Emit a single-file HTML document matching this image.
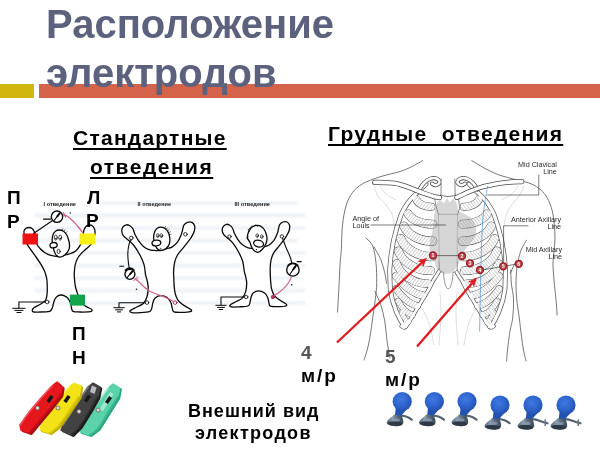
<!DOCTYPE html>
<html lang="ru">
<head>
<meta charset="utf-8">
<title>Расположение электродов</title>
<style>
html,body{margin:0;padding:0;background:#fff;}
body{width:600px;height:450px;position:relative;overflow:hidden;font-family:"Liberation Sans",sans-serif;}
.t{position:absolute;white-space:nowrap;font-weight:bold;color:#000;line-height:1;}
#title1,#title2{font-size:40px;color:#5c627d;}
#title1{left:46px;top:3.5px;}
#title2{left:46px;top:53px;}
#barY{position:absolute;left:0;top:84px;width:34px;height:14px;background:#d2b610;}
#barO{position:absolute;left:39px;top:84px;width:561px;height:14px;background:#d5634a;}
.u{text-decoration:underline;text-decoration-skip-ink:none;text-decoration-thickness:2px;text-underline-offset:3px;}
#std1{left:73px;top:127px;font-size:21px;letter-spacing:1.25px;}
#std2{left:90px;top:156px;font-size:21px;letter-spacing:1.5px;}
#chest{left:328px;top:123px;font-size:21px;letter-spacing:1.3px;}
.lbl{font-size:19px;}
#g{position:absolute;left:0;top:0;filter:blur(0.45px);}
.t{filter:blur(0.4px);}
#g text{font-family:"Liberation Sans",sans-serif;}
</style>
</head>
<body>
<svg id="g" width="600" height="450" viewBox="0 0 600 450">
<g id="figs" fill="none" stroke="#0a0a0a" stroke-width="1.3" stroke-linecap="round" stroke-linejoin="round">
<defs><filter id="gblur" x="-5%" y="-50%" width="110%" height="200%"><feGaussianBlur stdDeviation="1.2 0.9"/></filter></defs>
<g stroke="none" fill="#d9e2ec" opacity="0.42" filter="url(#gblur)"><rect x="100" y="201.0" width="198" height="4" rx="2"/><rect x="34" y="213.5" width="272" height="4" rx="2"/><rect x="34" y="226.0" width="272" height="4" rx="2"/><rect x="34" y="238.5" width="264" height="4" rx="2"/><rect x="34" y="251.0" width="272" height="4" rx="2"/><rect x="34" y="263.5" width="272" height="4" rx="2"/><rect x="34" y="276.0" width="264" height="4" rx="2"/><rect x="34" y="288.5" width="272" height="4" rx="2"/><rect x="34" y="301.0" width="272" height="4" rx="2"/></g>
<path d="M123.5 235.8C122.6 234.6 121.9 232.9 121.8 231.5C121.7 230.1 122.0 228.3 122.8 227.2C123.6 226.1 125.2 225.0 126.4 224.8C127.6 224.6 128.8 225.2 129.9 225.8C131.0 226.5 132.1 227.6 132.8 228.7C133.5 229.8 133.8 231.3 134.2 232.2C134.5 233.1 134.2 232.9 134.9 234.3C135.6 235.7 137.1 238.7 138.5 240.7C139.9 242.7 141.6 244.9 143.4 246.4C145.2 247.9 147.3 248.9 149.1 249.6C150.9 250.3 152.2 250.2 154.1 250.4C156.0 250.6 158.4 250.8 160.5 250.5C162.6 250.2 165.0 249.2 166.9 248.6C168.8 248.0 170.1 248.2 171.9 247.1C173.7 246.0 176.0 244.2 177.5 242.2C179.0 240.2 180.3 237.1 181.1 235.1C181.9 233.1 182.0 231.8 182.5 230.1C183.0 228.4 183.1 226.4 183.9 225.1C184.7 223.8 186.2 222.8 187.5 222.3C188.8 221.8 190.6 221.7 191.8 222.3C193.0 222.9 194.2 224.4 194.6 225.8C195.0 227.2 194.7 229.2 194.3 230.8C194.0 232.4 193.4 233.4 192.5 235.1C191.6 236.8 190.5 238.6 188.9 240.7C187.3 242.8 185.1 245.5 183.2 247.9C181.3 250.3 178.9 252.6 177.5 255.0C176.1 257.4 175.3 259.5 174.7 262.1C174.0 264.7 173.8 268.0 173.6 270.6C173.4 273.2 173.7 275.6 173.8 278.0C173.9 280.4 173.9 282.6 174.1 285.1C174.3 287.6 174.5 290.7 175.1 293.2C175.7 295.7 176.6 298.2 177.9 300.2C179.2 302.1 181.0 303.3 183.2 304.9C185.4 306.5 189.7 308.5 190.9 309.6C192.1 310.7 191.7 311.2 190.2 311.7C188.7 312.2 184.8 312.4 182.1 312.4C179.4 312.4 175.5 312.6 173.9 311.9C172.3 311.2 172.8 309.9 172.3 308.4C171.8 306.8 171.7 304.4 170.9 302.6C170.1 300.9 169.2 299.1 167.6 297.9C165.9 296.7 163.1 295.6 161.0 295.6C158.9 295.6 156.5 296.7 155.2 297.9C153.8 299.1 153.5 300.9 152.9 302.6C152.3 304.4 152.3 306.9 151.7 308.4C151.1 309.9 151.3 311.0 149.4 311.7C147.5 312.4 142.9 312.5 140.0 312.6C137.1 312.8 133.5 312.9 131.9 312.6C130.3 312.3 129.4 311.6 130.2 310.7C131.0 309.8 134.3 308.4 136.5 307.2C138.7 306.0 141.8 305.1 143.5 303.3C145.2 301.6 146.2 299.4 147.0 296.7C147.8 294.0 148.2 290.2 148.2 287.4C148.2 284.6 147.4 282.1 147.0 280.0C146.6 277.9 146.1 277.4 145.6 274.9C145.1 272.4 145.0 268.2 144.1 264.9C143.2 261.6 141.7 258.3 139.9 255.0C138.1 251.7 135.7 247.7 133.5 245.0C131.3 242.3 128.7 240.5 127.0 239.0C125.3 237.5 124.4 237.1 123.5 235.8Z" fill="#fff"/>
<path d="M160.5 227.2C161.8 227.2 163.7 227.6 165.0 228.5C166.3 229.4 167.5 230.9 168.3 232.5C169.1 234.1 169.6 236.1 169.8 238.0C170.0 239.9 169.9 242.2 169.3 244.0C168.7 245.8 167.4 247.4 166.0 248.5C164.6 249.6 162.5 250.3 161.0 250.3C159.5 250.3 158.0 249.6 157.0 248.5C156.0 247.4 155.6 245.8 155.0 244.0C154.4 242.2 153.7 240.0 153.6 238.0C153.5 236.0 154.0 233.6 154.6 232.0C155.2 230.4 156.0 229.3 157.0 228.5C158.0 227.7 159.2 227.2 160.5 227.2Z" fill="#fff"/><ellipse cx="156.4" cy="243.0" rx="4.4" ry="2.8" fill="#fff" transform="rotate(-8 156.4 243.0)"/><ellipse cx="157.8" cy="235.6" rx="1.3" ry="2" fill="#fff" stroke-width="0.7"/><circle cx="158.0" cy="236.2" r="0.7" fill="#111" stroke="none"/><ellipse cx="161.4" cy="235.6" rx="1.3" ry="2" fill="#fff" stroke-width="0.7"/><circle cx="161.6" cy="236.2" r="0.7" fill="#111" stroke="none"/><circle cx="160.8" cy="248.3" r="0.6" fill="#111" stroke="none"/><path d="M164.5 228.3 L165.5 226.6" stroke-width="0.6"/><path d="M166.2 229.3 L167.6 227.8" stroke-width="0.6"/><path d="M167.6 230.8 L169.2 229.6" stroke-width="0.6"/><path d="M168.7 232.6 L170.4 231.8" stroke-width="0.6"/><path d="M169.4 234.6 L171.0 234.3" stroke-width="0.6"/>
<circle cx="131.3" cy="237.9" r="1.8" fill="#fff" stroke-width="0.8"/>
<circle cx="185.4" cy="234.3" r="1.8" fill="#fff" stroke-width="0.8"/>
<circle cx="147.0" cy="302.6" r="1.8" fill="#fff" stroke-width="0.8"/>
<circle cx="175.1" cy="302.6" r="1.8" fill="#fff" stroke="#a04" stroke-width="0.8"/>
<path d="M131.3 239.7C131.0 240.3 129.8 241.3 129.2 243.6C128.6 245.9 127.9 250.2 127.8 253.5C127.7 256.8 128.2 260.9 128.5 263.5C128.8 266.1 129.3 268.1 129.5 269.0" stroke-width="1.1"/>
<path d="M125.5 270.2 A5.4 5.4 0 0 1 133.8 270" stroke-width="1.8"/>
<circle cx="129.9" cy="274.3" r="5.0" fill="#fff" stroke-width="1.35"/><path d="M127.3 277.4 L132.5 271.2" stroke-width="1.1"/><path d="M130.2 274.0 L132.2 271.5" stroke-width="2"/>
<path d="M119.8 266.3 H123.6" stroke-width="1.1"/>
<path d="M135.0 278.6C135.6 279.1 137.2 280.3 138.5 281.5C139.8 282.7 141.2 284.4 143.0 286.0C144.8 287.6 147.4 289.6 149.4 290.9C151.4 292.1 153.1 292.7 155.0 293.5C156.9 294.3 158.8 294.8 161.0 295.6C163.2 296.4 165.9 297.5 168.0 298.5C170.1 299.5 172.7 301.1 173.6 301.6" stroke="#d3608f" stroke-width="1.2"/>
<path d="M133.8 280.8 L137.2 276.8 M138.3 278 L136.6 279.8" stroke="#d3608f" stroke-width="1"/>
<circle cx="136.5" cy="289.3" r="0.8" fill="#111" stroke="none"/>
<path d="M145.2 302.8 H119.0 V307.4" stroke-width="1.1"/><path d="M113.8 307.7 H124.2" stroke-width="1"/><path d="M115.5 309.8 H122.5" stroke-width="1"/><path d="M117.3 311.9 H120.7" stroke-width="1"/>
<path d="M24.5 236.0C24.2 234.5 23.8 232.3 24.0 231.0C24.2 229.7 25.2 228.9 26.0 228.3C26.8 227.7 28.0 227.5 29.0 227.5C30.0 227.5 31.2 227.9 32.0 228.5C32.8 229.1 33.5 230.1 34.0 231.0C34.5 231.9 34.6 232.5 35.0 234.0C35.4 235.5 36.2 238.3 36.5 240.0C36.8 241.7 36.4 243.0 37.0 244.4C37.6 245.8 38.9 247.2 40.0 248.5C41.1 249.8 42.6 250.9 43.9 251.9C45.2 252.9 46.6 253.7 48.0 254.3C49.4 254.9 50.4 255.2 52.2 255.6C54.0 256.0 56.7 256.6 59.0 256.5C61.3 256.4 64.2 255.2 66.1 254.7C68.0 254.2 69.1 254.0 70.5 253.5C71.9 253.0 73.2 252.7 74.4 251.9C75.7 251.1 77.0 249.8 78.0 248.5C79.0 247.2 79.9 245.8 80.6 244.4C81.3 243.0 81.6 241.4 82.0 240.0C82.4 238.6 82.7 237.7 83.0 236.0C83.3 234.3 83.5 231.6 84.0 230.0C84.5 228.4 85.2 227.3 86.0 226.5C86.8 225.7 87.9 225.1 89.0 225.0C90.1 224.9 91.6 225.3 92.5 226.0C93.4 226.7 94.1 227.8 94.5 229.0C94.9 230.2 95.2 231.2 95.0 233.0C94.8 234.8 94.2 238.1 93.5 240.0C92.8 241.9 92.2 242.9 91.0 244.4C89.8 245.9 87.6 247.5 86.0 249.0C84.4 250.5 82.8 251.7 81.4 253.3C80.0 254.9 78.5 256.6 77.5 258.5C76.5 260.4 75.8 262.3 75.3 264.4C74.8 266.5 74.6 268.7 74.4 271.0C74.2 273.3 74.2 275.6 74.4 278.3C74.6 281.0 74.9 284.3 75.5 287.0C76.1 289.7 77.0 292.2 77.8 294.4C78.5 296.6 79.0 298.2 80.0 300.0C81.0 301.8 82.7 303.8 84.0 305.0C85.3 306.2 86.7 306.8 88.0 307.5C89.3 308.2 91.1 308.8 91.7 309.4C92.3 310.0 92.1 310.9 91.5 311.3C90.9 311.7 90.2 311.8 88.3 311.9C86.4 312.0 82.5 312.1 80.0 312.0C77.5 311.9 74.4 312.0 73.0 311.3C71.6 310.6 71.9 309.4 71.5 308.0C71.1 306.6 71.1 304.6 70.5 303.0C69.9 301.4 69.0 299.5 68.0 298.3C67.0 297.1 65.7 296.4 64.5 295.8C63.3 295.2 61.9 294.9 60.6 295.0C59.4 295.1 57.9 295.8 57.0 296.5C56.1 297.2 55.6 297.9 55.0 299.0C54.4 300.1 53.9 301.8 53.5 303.0C53.1 304.2 53.1 305.3 52.8 306.4C52.5 307.5 52.1 308.7 51.5 309.5C50.9 310.3 51.3 310.9 49.4 311.3C47.5 311.7 42.6 311.9 40.0 312.0C37.4 312.1 34.8 312.3 33.5 312.0C32.2 311.7 32.1 311.1 32.2 310.3C32.3 309.6 32.9 308.5 34.2 307.5C35.5 306.5 38.1 305.6 40.0 304.5C41.9 303.4 44.2 302.0 45.3 300.6C46.4 299.2 46.5 297.4 46.8 296.0C47.1 294.6 47.1 294.0 47.2 292.2C47.3 290.4 47.3 287.3 47.2 285.0C47.1 282.7 47.2 280.6 46.7 278.3C46.2 276.0 45.5 273.3 44.5 271.0C43.5 268.7 42.4 266.7 41.0 264.4C39.6 262.1 37.7 259.4 36.0 257.0C34.3 254.6 32.5 252.1 31.0 250.0C29.5 247.9 28.1 246.1 27.2 244.4C26.3 242.7 25.9 241.4 25.5 240.0C25.1 238.6 24.8 237.5 24.5 236.0Z" fill="#fff"/>
<path d="M59.0 230.0C60.3 230.0 62.2 230.4 63.5 231.2C64.8 232.0 66.0 233.5 66.8 235.0C67.6 236.5 68.1 238.2 68.6 240.0C69.1 241.8 69.6 243.8 69.6 245.5C69.6 247.2 69.3 248.9 68.5 250.5C67.7 252.1 66.4 253.7 65.0 254.8C63.6 255.9 61.8 257.1 60.3 257.2C58.8 257.3 57.3 256.4 56.3 255.3C55.2 254.2 54.6 252.2 54.0 250.5C53.4 248.8 52.9 246.9 52.6 245.0C52.3 243.1 52.1 240.8 52.2 239.0C52.3 237.2 52.7 235.3 53.3 234.0C53.9 232.7 54.8 231.7 55.8 231.0C56.8 230.3 57.7 230.0 59.0 230.0Z" fill="#fff"/>
<ellipse cx="53.6" cy="245.2" rx="3.6" ry="2.6" fill="#fff" transform="rotate(-10 53.6 245.2)"/>
<ellipse cx="55.8" cy="237.6" rx="1.5" ry="2.6" fill="#fff" stroke-width="0.7"/>
<circle cx="55.9" cy="238.6" r="0.8" fill="#111" stroke="none"/>
<ellipse cx="60.2" cy="237.6" rx="1.5" ry="2.6" fill="#fff" stroke-width="0.7"/>
<circle cx="60.3" cy="238.6" r="0.8" fill="#111" stroke="none"/>
<ellipse cx="58.6" cy="251.4" rx="1.5" ry="2.2" fill="#fff" stroke-width="0.8"/>
<path d="M62 230.3 L62.6 228.8 M64 231.2 L65 229.8 M65.8 232.8 L67 231.6" stroke-width="0.6"/>
<path d="M52.6 220.6 L33.5 233.6" stroke-width="1.2"/>
<path d="M62.5 214.6C63.2 214.8 65.1 215.0 66.5 215.8C67.9 216.6 69.5 217.9 71.0 219.2C72.5 220.5 74.1 222.0 75.5 223.6C76.9 225.2 78.2 226.9 79.5 228.5C80.8 230.1 82.4 232.4 83.0 233.2" stroke="#d3608f" stroke-width="1.3"/>
<path d="M63.4 212.4 L65.6 217.2" stroke="#d3608f" stroke-width="1.1"/>
<circle cx="70.3" cy="213" r="0.7" fill="#111" stroke="none"/>
<circle cx="57.0" cy="216.7" r="5.7" fill="#fff" stroke-width="1.35"/><path d="M54.1 220.4 L59.9 213.0" stroke-width="1.1"/><path d="M57.3 216.3 L59.6 213.4" stroke-width="2"/>
<path d="M43.6 219.2 H50.6" stroke-width="1.2"/>
<rect x="22.5" y="233.5" width="15.5" height="11" fill="#ee1212" stroke="none"/>
<rect x="79.5" y="233.5" width="15.5" height="11" fill="#f8ee18" stroke="none"/>
<rect x="69.8" y="294.6" width="15.2" height="11" fill="#12a44c" stroke="none"/>
<circle cx="47.2" cy="302" r="1.8" fill="#fff" stroke-width="0.8"/>
<path d="M45.4 302.0 H18.9 V308.0" stroke-width="1.1"/><path d="M12.7 308.3 H25.1" stroke-width="1"/><path d="M14.8 310.4 H23.0" stroke-width="1"/><path d="M16.9 312.5 H20.9" stroke-width="1"/>
<path d="M223.8 234.7C223.0 233.5 222.3 232.0 222.2 230.6C222.1 229.3 222.5 227.6 223.2 226.6C223.9 225.6 225.4 224.6 226.5 224.3C227.6 224.1 228.7 224.7 229.7 225.3C230.7 225.9 231.8 227.0 232.4 228.0C233.1 229.0 233.4 230.4 233.7 231.3C234.0 232.2 233.7 231.9 234.4 233.3C235.0 234.6 236.4 237.4 237.7 239.3C239.0 241.2 240.6 243.3 242.2 244.6C243.9 246.0 245.8 247.0 247.5 247.7C249.1 248.3 250.4 248.3 252.1 248.4C253.9 248.5 256.1 248.8 258.0 248.5C260.0 248.2 262.2 247.2 264.0 246.7C265.7 246.2 266.9 246.3 268.6 245.3C270.2 244.3 272.3 242.6 273.8 240.7C275.2 238.8 276.3 235.9 277.1 234.0C277.9 232.1 278.0 230.9 278.4 229.3C278.8 227.8 278.9 225.8 279.7 224.6C280.5 223.4 281.8 222.4 283.0 222.0C284.2 221.6 285.9 221.4 287.0 222.0C288.1 222.5 289.2 224.0 289.6 225.3C290.0 226.6 289.6 228.5 289.3 230.0C289.0 231.4 288.5 232.5 287.6 234.0C286.8 235.6 285.7 237.3 284.3 239.3C282.9 241.3 280.8 243.8 279.0 246.1C277.3 248.3 275.1 250.5 273.8 252.7C272.5 255.0 271.8 257.0 271.2 259.4C270.6 261.9 270.3 264.9 270.2 267.4C270.0 269.9 270.3 272.1 270.3 274.4C270.4 276.6 270.4 278.6 270.6 281.0C270.8 283.4 271.0 286.3 271.5 288.6C272.1 291.0 272.9 293.4 274.1 295.2C275.4 297.1 277.0 298.2 279.0 299.6C281.0 301.1 285.1 303.0 286.2 304.1C287.2 305.1 286.9 305.6 285.5 306.0C284.2 306.5 280.5 306.7 278.0 306.7C275.5 306.7 271.9 306.8 270.4 306.2C268.9 305.6 269.4 304.4 269.0 302.9C268.5 301.5 268.4 299.1 267.7 297.5C266.9 295.8 266.1 294.2 264.6 293.1C263.1 292.0 260.4 290.9 258.5 290.9C256.6 290.9 254.4 292.0 253.1 293.1C251.9 294.2 251.5 295.8 251.0 297.5C250.5 299.1 250.4 301.5 249.9 302.9C249.4 304.4 249.6 305.4 247.8 306.0C246.0 306.7 241.8 306.7 239.1 306.9C236.4 307.0 233.1 307.2 231.6 306.9C230.1 306.6 229.3 305.9 230.0 305.1C230.7 304.2 233.8 303.0 235.8 301.8C237.9 300.6 240.7 299.8 242.3 298.1C243.9 296.5 244.8 294.4 245.6 291.9C246.3 289.4 246.7 285.8 246.7 283.2C246.7 280.6 246.0 278.2 245.6 276.2C245.1 274.3 244.7 273.8 244.3 271.4C243.8 269.1 243.7 265.2 242.9 262.0C242.0 258.9 240.6 255.8 239.0 252.7C237.3 249.6 235.1 245.8 233.1 243.3C231.1 240.8 228.6 239.1 227.1 237.7C225.5 236.3 224.6 235.9 223.8 234.7Z" fill="#fff"/>
<path d="M257.0 225.4C258.3 225.4 259.8 225.7 261.0 226.4C262.2 227.1 263.3 228.2 264.2 229.5C265.1 230.8 265.7 232.4 266.2 234.0C266.7 235.6 267.1 237.2 267.0 239.0C266.9 240.8 266.3 242.8 265.6 244.5C264.9 246.2 263.8 247.7 262.6 249.0C261.4 250.3 259.8 251.9 258.5 252.2C257.2 252.5 255.8 251.9 254.6 251.0C253.4 250.1 252.4 248.5 251.6 247.0C250.8 245.5 250.5 243.4 249.8 242.0C249.1 240.6 247.9 239.8 247.6 238.4C247.3 237.0 247.5 235.0 248.0 233.4C248.5 231.8 249.5 230.0 250.4 228.8C251.3 227.6 252.3 226.8 253.4 226.2C254.5 225.6 255.7 225.4 257.0 225.4Z" fill="#fff"/>
<ellipse cx="258.6" cy="243.6" rx="5" ry="3.3" fill="#fff" transform="rotate(14 258.6 243.6)"/>
<ellipse cx="257.2" cy="235.6" rx="1.3" ry="1.9" fill="#fff" stroke-width="0.7"/>
<circle cx="257.4" cy="236.1" r="0.7" fill="#111" stroke="none"/>
<ellipse cx="261.8" cy="236.6" rx="1.3" ry="1.9" fill="#fff" stroke-width="0.7"/>
<circle cx="262.0" cy="237.1" r="0.7" fill="#111" stroke="none"/>
<circle cx="256.6" cy="249.6" r="0.7" fill="#111" stroke="none"/>
<path d="M249 231.5 C247.4 230.2 248.6 228 250.4 228.6 C250 226.4 252.6 225.4 253.6 227 C254 224.6 257 224.4 257.4 226.4" stroke-width="0.8"/>
<path d="M248.2 236.6 C246.6 236.4 246.4 239.4 248.4 239.8" stroke-width="0.8"/>
<circle cx="229.5" cy="236.6" r="1.7" fill="#fff" stroke-width="0.8"/>
<circle cx="281.9" cy="236.4" r="1.7" fill="#fff" stroke-width="0.8"/>
<circle cx="246.2" cy="297.0" r="1.7" fill="#fff" stroke-width="0.8"/>
<circle cx="273" cy="297" r="1.8" fill="#b03060" stroke="#802040" stroke-width="0.7"/>
<path d="M282.6 238.2C283.0 239.3 284.1 242.6 285.0 245.0C285.9 247.4 287.3 250.2 288.2 252.4C289.1 254.6 289.9 256.1 290.5 258.0C291.1 259.9 291.7 262.7 291.9 263.6" stroke-width="1.1"/>
<path d="M288.2 265.4 A6.4 6.4 0 0 1 297.6 265.4" stroke-width="1.8"/>
<circle cx="292.9" cy="269.9" r="6.2" fill="#fff" stroke-width="1.35"/><path d="M289.9 274.2 L295.9 265.6" stroke-width="1.1"/><path d="M293.2 269.5 L295.6 266.1" stroke-width="2"/>
<path d="M297.2 261.6 H301.2" stroke-width="1.1"/>
<path d="M291.6 276.2C291.2 277.2 290.1 280.1 289.0 282.0C287.9 283.9 286.3 285.7 284.7 287.4C283.1 289.1 281.2 290.6 279.5 292.0C277.8 293.4 275.2 295.2 274.4 295.8" stroke="#d3608f" stroke-width="1.2"/>
<circle cx="291.7" cy="284.8" r="0.8" fill="#111" stroke="none"/>
<path d="M244.4 297.0 H221.0 V305.0" stroke-width="1.1"/><path d="M215.8 305.3 H226.2" stroke-width="1"/><path d="M217.5 307.4 H224.5" stroke-width="1"/><path d="M219.3 309.5 H222.7" stroke-width="1"/>
</g>
<g font-size="4.8" fill="#222" font-weight="bold">
<text x="43.5" y="205.6" textLength="32.5" lengthAdjust="spacingAndGlyphs">I отведение</text>
<text x="137.5" y="205.6" textLength="33.5" lengthAdjust="spacingAndGlyphs">II отведение</text>
<text x="234.5" y="205.6" textLength="35.5" lengthAdjust="spacingAndGlyphs">III отведение</text>
</g>
<g id="chestfig" fill="none" stroke="#4a4a4a" stroke-width="0.75" stroke-linecap="round" stroke-linejoin="round">
<path d="M422.8 160.6C421.8 161.1 418.9 162.8 417.0 163.8C415.1 164.8 414.5 165.4 411.7 166.7C408.9 168.0 405.3 169.8 400.0 171.5C394.7 173.2 386.2 174.8 380.0 176.8C373.8 178.9 367.1 181.2 362.5 183.8C357.9 186.4 355.2 189.0 352.5 192.5C349.8 196.0 348.0 199.6 346.3 205.0C344.6 210.4 343.3 217.5 342.5 225.0C341.7 232.5 341.7 243.3 341.3 250.0C340.9 256.7 340.4 258.3 340.0 265.0C339.6 271.7 339.2 282.2 338.8 290.0C338.4 297.8 337.7 308.3 337.5 312.0"/>
<path d="M471.8 160.6C472.8 161.2 475.6 162.8 477.5 164.0C479.4 165.2 481.1 166.2 483.3 167.5C485.6 168.8 488.2 170.2 491.0 171.5C493.8 172.8 496.4 174.1 500.0 175.3C503.6 176.5 507.0 177.2 512.5 178.8C518.0 180.4 527.6 182.0 533.0 184.6C538.4 187.2 542.0 190.7 545.0 194.5C548.0 198.3 549.8 202.9 551.3 207.5C552.8 212.1 553.4 217.0 554.0 222.0C554.6 227.0 555.0 232.7 555.0 237.5C555.0 242.3 554.3 246.6 554.0 251.0C553.7 255.4 553.0 258.7 553.0 264.0C553.0 269.3 553.7 276.2 554.3 283.0C554.9 289.8 556.0 299.7 556.5 305.0C557.0 310.3 556.9 313.3 557.0 315.0"/>
<path d="M366.0 238.0C367.1 239.3 371.1 242.0 372.7 246.0C374.3 250.0 375.2 255.8 375.9 262.0C376.6 268.2 376.8 277.1 376.7 283.3C376.6 289.5 376.0 293.5 375.3 299.3C374.6 305.1 373.6 311.8 372.7 318.0C371.8 324.2 370.9 331.4 370.0 336.7C369.1 342.0 368.2 346.1 367.2 350.0C366.2 353.9 364.5 358.3 364.0 360.0"/>
<path d="M516.9 267.3C516.8 269.9 516.0 277.7 516.0 283.0C516.0 288.3 516.2 293.2 516.7 299.0C517.2 304.8 518.5 311.7 519.3 318.0C520.1 324.3 520.8 331.4 521.5 336.7C522.2 342.0 522.8 345.9 523.5 350.0C524.2 354.1 525.6 359.2 526.0 361.0"/>
<path d="M374.8 291.3C375.8 293.5 379.1 299.8 380.7 304.7C382.3 309.6 383.7 315.4 384.7 320.7C385.7 326.0 385.9 331.8 386.5 336.7C387.1 341.6 387.9 346.4 388.5 350.0C389.1 353.6 389.8 356.7 390.0 358.0"/>
<path d="M374.0 247.0C375.1 249.1 378.9 255.0 380.7 259.3C382.5 263.6 383.7 268.7 384.7 272.7C385.7 276.7 386.2 281.5 386.5 283.3"/>
<path d="M510.8 270.0C510.9 272.2 510.9 278.5 511.3 283.3C511.8 288.1 513.3 293.2 513.5 299.0C513.7 304.8 513.3 312.7 512.7 318.0C512.1 323.3 510.9 325.7 510.0 331.0C509.1 336.3 508.1 345.0 507.5 350.0C506.9 355.0 506.8 359.2 506.6 361.0"/>
<path d="M515.3 262.5 L510.4 273"/>
<g stroke="#cfcfcf" stroke-width="0.7">
<path d="M374.0 186.0C374.7 187.7 376.0 192.8 378.0 196.0C380.0 199.2 383.7 202.0 386.0 205.0C388.3 208.0 390.7 210.8 392.0 214.0C393.3 217.2 393.7 222.3 394.0 224.0"/>
<path d="M380.0 186.0C381.0 187.3 383.3 191.7 386.0 194.0C388.7 196.3 394.3 199.0 396.0 200.0"/>
<path d="M524.0 186.0C523.2 187.7 521.2 192.7 519.0 196.0C516.8 199.3 513.2 202.7 511.0 206.0C508.8 209.3 507.2 212.7 506.0 216.0C504.8 219.3 504.3 224.3 504.0 226.0"/>
<path d="M518.0 186.0C517.0 187.3 514.7 191.7 512.0 194.0C509.3 196.3 503.7 199.0 502.0 200.0"/>
<path d="M416.0 300.0C417.3 302.0 421.7 307.7 424.0 312.0C426.3 316.3 428.3 320.5 430.0 326.0C431.7 331.5 433.3 341.8 434.0 345.0"/>
<path d="M482.0 300.0C480.7 302.0 476.3 307.7 474.0 312.0C471.7 316.3 469.7 320.5 468.0 326.0C466.3 331.5 464.7 341.8 464.0 345.0"/>
<path d="M440.0 292.0C440.2 295.8 441.2 306.2 441.0 315.0C440.8 323.8 439.3 340.0 439.0 345.0"/>
<path d="M457.0 292.0C456.8 295.8 455.8 306.2 456.0 315.0C456.2 323.8 457.7 340.0 458.0 345.0"/>
</g>
<defs><pattern id="hatch" width="2.6" height="2.6" patternUnits="userSpaceOnUse" patternTransform="rotate(-52)"><rect width="2.6" height="2.6" fill="#fff" stroke="none"/><rect width="2.6" height="0.7" fill="#c2c2c2" stroke="none"/></pattern><pattern id="hatch2" width="2.6" height="2.6" patternUnits="userSpaceOnUse" patternTransform="rotate(52)"><rect width="2.6" height="2.6" fill="#fff" stroke="none"/><rect width="2.6" height="0.7" fill="#c2c2c2" stroke="none"/></pattern></defs>
<path d="M416.5 199.8 C418.2 203.7 424.6 206.9 431.3 206.8" stroke="#5a5a5a" stroke-width="8.0"/>
<path d="M408.0 213.8 C411.0 219.5 421.7 224.4 432.9 224.2" stroke="#5a5a5a" stroke-width="8.8"/>
<path d="M404.0 226.2 C407.5 234.4 419.8 241.5 432.7 241.2" stroke="#5a5a5a" stroke-width="9.2"/>
<path d="M400.7 238.7 C404.5 248.5 418.0 257.0 432.1 256.6" stroke="#5a5a5a" stroke-width="9.2"/>
<path d="M398.4 251.0 C402.2 261.8 416.1 271.0 430.7 270.6" stroke="#5a5a5a" stroke-width="8.8"/>
<path d="M396.7 263.5 C400.4 274.6 413.9 284.0 427.9 283.6" stroke="#5a5a5a" stroke-width="8.4"/>
<path d="M396.0 276.0 C401.9 284.1 412.6 293.8 422.8 295.4" stroke="#5a5a5a" stroke-width="7.8"/>
<path d="M396.1 288.8 C400.8 295.9 409.4 304.4 417.5 305.8" stroke="#5a5a5a" stroke-width="7.2"/>
<path d="M398.1 301.0 C401.3 306.8 407.0 313.7 412.5 314.8" stroke="#5a5a5a" stroke-width="6.4"/>
<path d="M401.6 312.3 C403.1 316.3 405.9 321.0 408.5 321.8" stroke="#5a5a5a" stroke-width="5.6"/>
<path d="M405.7 321.6 C405.7 323.6 405.7 326.0 405.7 326.4" stroke="#5a5a5a" stroke-width="4.4"/>
<path d="M426.0 184.0C424.9 185.1 421.8 188.1 419.1 190.8C416.4 193.5 412.4 197.3 410.1 200.0C407.7 202.7 406.6 204.7 405.2 207.0C403.7 209.3 402.4 211.8 401.4 214.0C400.4 216.2 399.9 218.3 399.2 220.5C398.4 222.7 397.7 224.8 397.0 227.0C396.4 229.2 395.8 231.7 395.2 234.0C394.6 236.3 393.9 238.7 393.4 241.0C392.9 243.3 392.7 245.7 392.3 248.0C391.9 250.3 391.4 252.7 391.1 255.0C390.8 257.3 390.7 259.7 390.4 262.0C390.2 264.3 389.9 266.7 389.8 269.0C389.7 271.3 389.8 273.7 389.9 276.0C389.9 278.3 390.0 280.8 390.1 283.0C390.2 285.2 390.1 287.0 390.3 289.0C390.5 291.0 391.0 293.0 391.4 295.0C391.8 297.0 392.1 299.0 392.7 301.0C393.3 303.0 394.1 305.2 394.8 307.0C395.4 308.8 395.8 310.3 396.5 312.0C397.2 313.7 398.2 315.4 398.9 317.0C399.7 318.6 400.3 320.0 401.2 321.5C402.1 323.0 403.9 325.2 404.4 326.0" stroke="#5a5a5a" stroke-width="4.9"/>
<path d="M439.5 270.5C439.0 271.3 437.6 273.8 436.5 275.5C435.4 277.2 434.2 278.8 433.0 281.0C431.8 283.2 430.6 286.2 429.0 289.0C427.4 291.8 425.4 294.8 423.5 298.0C421.6 301.2 419.5 304.7 417.5 308.0C415.5 311.3 413.2 315.2 411.5 318.0C409.8 320.8 408.7 322.9 407.5 324.5C406.3 326.1 405.5 327.3 404.5 327.6C403.5 327.9 401.9 326.4 401.4 326.2" stroke="#5a5a5a" stroke-width="4.1"/>
<path d="M478.7 199.8 C477.0 203.7 470.6 206.9 463.9 206.8" stroke="#5a5a5a" stroke-width="8.0"/>
<path d="M487.2 213.8 C484.2 219.5 473.5 224.4 462.3 224.2" stroke="#5a5a5a" stroke-width="8.8"/>
<path d="M491.2 226.2 C487.7 234.4 475.4 241.5 462.5 241.2" stroke="#5a5a5a" stroke-width="9.2"/>
<path d="M494.5 238.7 C490.7 248.5 477.2 257.0 463.1 256.6" stroke="#5a5a5a" stroke-width="9.2"/>
<path d="M496.8 251.0 C493.0 261.8 479.1 271.0 464.5 270.6" stroke="#5a5a5a" stroke-width="8.8"/>
<path d="M498.5 263.5 C494.8 274.6 481.3 284.0 467.3 283.6" stroke="#5a5a5a" stroke-width="8.4"/>
<path d="M499.2 276.0 C493.3 284.1 482.6 293.8 472.4 295.4" stroke="#5a5a5a" stroke-width="7.8"/>
<path d="M499.1 288.8 C494.4 295.9 485.8 304.4 477.7 305.8" stroke="#5a5a5a" stroke-width="7.2"/>
<path d="M497.1 301.0 C493.9 306.8 488.2 313.7 482.7 314.8" stroke="#5a5a5a" stroke-width="6.4"/>
<path d="M493.6 312.3 C492.1 316.3 489.3 321.0 486.7 321.8" stroke="#5a5a5a" stroke-width="5.6"/>
<path d="M489.6 321.6 C489.5 323.6 489.5 326.0 489.5 326.4" stroke="#5a5a5a" stroke-width="4.4"/>
<path d="M469.2 184.0C470.3 185.1 473.4 188.1 476.1 190.8C478.8 193.5 482.8 197.3 485.1 200.0C487.5 202.7 488.6 204.7 490.0 207.0C491.5 209.3 492.8 211.8 493.8 214.0C494.8 216.2 495.3 218.3 496.0 220.5C496.8 222.7 497.5 224.8 498.2 227.0C498.8 229.2 499.4 231.7 500.0 234.0C500.6 236.3 501.3 238.7 501.8 241.0C502.3 243.3 502.5 245.7 502.9 248.0C503.3 250.3 503.8 252.7 504.1 255.0C504.4 257.3 504.5 259.7 504.8 262.0C505.0 264.3 505.3 266.7 505.4 269.0C505.5 271.3 505.4 273.7 505.3 276.0C505.3 278.3 505.2 280.8 505.1 283.0C505.0 285.2 505.1 287.0 504.9 289.0C504.7 291.0 504.2 293.0 503.8 295.0C503.4 297.0 503.1 299.0 502.5 301.0C501.9 303.0 501.1 305.2 500.4 307.0C499.8 308.8 499.4 310.3 498.7 312.0C498.0 313.7 497.0 315.4 496.3 317.0C495.5 318.6 494.9 320.0 494.0 321.5C493.1 323.0 491.3 325.2 490.8 326.0" stroke="#5a5a5a" stroke-width="4.9"/>
<path d="M455.7 270.5C456.2 271.3 457.6 273.8 458.7 275.5C459.8 277.2 461.0 278.8 462.2 281.0C463.5 283.2 464.6 286.2 466.2 289.0C467.8 291.8 469.8 294.8 471.7 298.0C473.6 301.2 475.7 304.7 477.7 308.0C479.7 311.3 482.0 315.2 483.7 318.0C485.4 320.8 486.5 322.9 487.7 324.5C488.9 326.1 489.7 327.3 490.7 327.6C491.7 327.9 493.3 326.4 493.8 326.2" stroke="#5a5a5a" stroke-width="4.1"/>
<path d="M416.5 199.8 C418.2 203.7 424.6 206.9 431.3 206.8" stroke="#fff" stroke-width="6.6"/>
<path d="M416.5 199.8 C418.2 203.7 424.6 206.9 431.3 206.8" stroke="url(#hatch)" stroke-width="6.6"/>
<path d="M408.0 213.8 C411.0 219.5 421.7 224.4 432.9 224.2" stroke="#fff" stroke-width="7.4"/>
<path d="M408.0 213.8 C411.0 219.5 421.7 224.4 432.9 224.2" stroke="url(#hatch)" stroke-width="7.4"/>
<path d="M404.0 226.2 C407.5 234.4 419.8 241.5 432.7 241.2" stroke="#fff" stroke-width="7.8"/>
<path d="M404.0 226.2 C407.5 234.4 419.8 241.5 432.7 241.2" stroke="url(#hatch)" stroke-width="7.8"/>
<path d="M400.7 238.7 C404.5 248.5 418.0 257.0 432.1 256.6" stroke="#fff" stroke-width="7.8"/>
<path d="M400.7 238.7 C404.5 248.5 418.0 257.0 432.1 256.6" stroke="url(#hatch)" stroke-width="7.8"/>
<path d="M398.4 251.0 C402.2 261.8 416.1 271.0 430.7 270.6" stroke="#fff" stroke-width="7.4"/>
<path d="M398.4 251.0 C402.2 261.8 416.1 271.0 430.7 270.6" stroke="url(#hatch)" stroke-width="7.4"/>
<path d="M396.7 263.5 C400.4 274.6 413.9 284.0 427.9 283.6" stroke="#fff" stroke-width="7.0"/>
<path d="M396.7 263.5 C400.4 274.6 413.9 284.0 427.9 283.6" stroke="url(#hatch)" stroke-width="7.0"/>
<path d="M396.0 276.0 C401.9 284.1 412.6 293.8 422.8 295.4" stroke="#fff" stroke-width="6.4"/>
<path d="M396.0 276.0 C401.9 284.1 412.6 293.8 422.8 295.4" stroke="url(#hatch)" stroke-width="6.4"/>
<path d="M396.1 288.8 C400.8 295.9 409.4 304.4 417.5 305.8" stroke="#fff" stroke-width="5.8"/>
<path d="M396.1 288.8 C400.8 295.9 409.4 304.4 417.5 305.8" stroke="url(#hatch)" stroke-width="5.8"/>
<path d="M398.1 301.0 C401.3 306.8 407.0 313.7 412.5 314.8" stroke="#fff" stroke-width="5.0"/>
<path d="M398.1 301.0 C401.3 306.8 407.0 313.7 412.5 314.8" stroke="url(#hatch)" stroke-width="5.0"/>
<path d="M401.6 312.3 C403.1 316.3 405.9 321.0 408.5 321.8" stroke="#fff" stroke-width="4.2"/>
<path d="M401.6 312.3 C403.1 316.3 405.9 321.0 408.5 321.8" stroke="url(#hatch)" stroke-width="4.2"/>
<path d="M405.7 321.6 C405.7 323.6 405.7 326.0 405.7 326.4" stroke="#fff" stroke-width="3.0"/>
<path d="M405.7 321.6 C405.7 323.6 405.7 326.0 405.7 326.4" stroke="url(#hatch)" stroke-width="3.0"/>
<path d="M426.0 184.0C424.9 185.1 421.8 188.1 419.1 190.8C416.4 193.5 412.4 197.3 410.1 200.0C407.7 202.7 406.6 204.7 405.2 207.0C403.7 209.3 402.4 211.8 401.4 214.0C400.4 216.2 399.9 218.3 399.2 220.5C398.4 222.7 397.7 224.8 397.0 227.0C396.4 229.2 395.8 231.7 395.2 234.0C394.6 236.3 393.9 238.7 393.4 241.0C392.9 243.3 392.7 245.7 392.3 248.0C391.9 250.3 391.4 252.7 391.1 255.0C390.8 257.3 390.7 259.7 390.4 262.0C390.2 264.3 389.9 266.7 389.8 269.0C389.7 271.3 389.8 273.7 389.9 276.0C389.9 278.3 390.0 280.8 390.1 283.0C390.2 285.2 390.1 287.0 390.3 289.0C390.5 291.0 391.0 293.0 391.4 295.0C391.8 297.0 392.1 299.0 392.7 301.0C393.3 303.0 394.1 305.2 394.8 307.0C395.4 308.8 395.8 310.3 396.5 312.0C397.2 313.7 398.2 315.4 398.9 317.0C399.7 318.6 400.3 320.0 401.2 321.5C402.1 323.0 403.9 325.2 404.4 326.0" stroke="#fff" stroke-width="3.4"/>
<path d="M439.5 270.5C439.0 271.3 437.6 273.8 436.5 275.5C435.4 277.2 434.2 278.8 433.0 281.0C431.8 283.2 430.6 286.2 429.0 289.0C427.4 291.8 425.4 294.8 423.5 298.0C421.6 301.2 419.5 304.7 417.5 308.0C415.5 311.3 413.2 315.2 411.5 318.0C409.8 320.8 408.7 322.9 407.5 324.5C406.3 326.1 405.5 327.3 404.5 327.6C403.5 327.9 401.9 326.4 401.4 326.2" stroke="#fff" stroke-width="2.6"/>
<path d="M478.7 199.8 C477.0 203.7 470.6 206.9 463.9 206.8" stroke="#fff" stroke-width="6.6"/>
<path d="M478.7 199.8 C477.0 203.7 470.6 206.9 463.9 206.8" stroke="url(#hatch2)" stroke-width="6.6"/>
<path d="M487.2 213.8 C484.2 219.5 473.5 224.4 462.3 224.2" stroke="#fff" stroke-width="7.4"/>
<path d="M487.2 213.8 C484.2 219.5 473.5 224.4 462.3 224.2" stroke="url(#hatch2)" stroke-width="7.4"/>
<path d="M491.2 226.2 C487.7 234.4 475.4 241.5 462.5 241.2" stroke="#fff" stroke-width="7.8"/>
<path d="M491.2 226.2 C487.7 234.4 475.4 241.5 462.5 241.2" stroke="url(#hatch2)" stroke-width="7.8"/>
<path d="M494.5 238.7 C490.7 248.5 477.2 257.0 463.1 256.6" stroke="#fff" stroke-width="7.8"/>
<path d="M494.5 238.7 C490.7 248.5 477.2 257.0 463.1 256.6" stroke="url(#hatch2)" stroke-width="7.8"/>
<path d="M496.8 251.0 C493.0 261.8 479.1 271.0 464.5 270.6" stroke="#fff" stroke-width="7.4"/>
<path d="M496.8 251.0 C493.0 261.8 479.1 271.0 464.5 270.6" stroke="url(#hatch2)" stroke-width="7.4"/>
<path d="M498.5 263.5 C494.8 274.6 481.3 284.0 467.3 283.6" stroke="#fff" stroke-width="7.0"/>
<path d="M498.5 263.5 C494.8 274.6 481.3 284.0 467.3 283.6" stroke="url(#hatch2)" stroke-width="7.0"/>
<path d="M499.2 276.0 C493.3 284.1 482.6 293.8 472.4 295.4" stroke="#fff" stroke-width="6.4"/>
<path d="M499.2 276.0 C493.3 284.1 482.6 293.8 472.4 295.4" stroke="url(#hatch2)" stroke-width="6.4"/>
<path d="M499.1 288.8 C494.4 295.9 485.8 304.4 477.7 305.8" stroke="#fff" stroke-width="5.8"/>
<path d="M499.1 288.8 C494.4 295.9 485.8 304.4 477.7 305.8" stroke="url(#hatch2)" stroke-width="5.8"/>
<path d="M497.1 301.0 C493.9 306.8 488.2 313.7 482.7 314.8" stroke="#fff" stroke-width="5.0"/>
<path d="M497.1 301.0 C493.9 306.8 488.2 313.7 482.7 314.8" stroke="url(#hatch2)" stroke-width="5.0"/>
<path d="M493.6 312.3 C492.1 316.3 489.3 321.0 486.7 321.8" stroke="#fff" stroke-width="4.2"/>
<path d="M493.6 312.3 C492.1 316.3 489.3 321.0 486.7 321.8" stroke="url(#hatch2)" stroke-width="4.2"/>
<path d="M489.6 321.6 C489.5 323.6 489.5 326.0 489.5 326.4" stroke="#fff" stroke-width="3.0"/>
<path d="M489.6 321.6 C489.5 323.6 489.5 326.0 489.5 326.4" stroke="url(#hatch2)" stroke-width="3.0"/>
<path d="M469.2 184.0C470.3 185.1 473.4 188.1 476.1 190.8C478.8 193.5 482.8 197.3 485.1 200.0C487.5 202.7 488.6 204.7 490.0 207.0C491.5 209.3 492.8 211.8 493.8 214.0C494.8 216.2 495.3 218.3 496.0 220.5C496.8 222.7 497.5 224.8 498.2 227.0C498.8 229.2 499.4 231.7 500.0 234.0C500.6 236.3 501.3 238.7 501.8 241.0C502.3 243.3 502.5 245.7 502.9 248.0C503.3 250.3 503.8 252.7 504.1 255.0C504.4 257.3 504.5 259.7 504.8 262.0C505.0 264.3 505.3 266.7 505.4 269.0C505.5 271.3 505.4 273.7 505.3 276.0C505.3 278.3 505.2 280.8 505.1 283.0C505.0 285.2 505.1 287.0 504.9 289.0C504.7 291.0 504.2 293.0 503.8 295.0C503.4 297.0 503.1 299.0 502.5 301.0C501.9 303.0 501.1 305.2 500.4 307.0C499.8 308.8 499.4 310.3 498.7 312.0C498.0 313.7 497.0 315.4 496.3 317.0C495.5 318.6 494.9 320.0 494.0 321.5C493.1 323.0 491.3 325.2 490.8 326.0" stroke="#fff" stroke-width="3.4"/>
<path d="M455.7 270.5C456.2 271.3 457.6 273.8 458.7 275.5C459.8 277.2 461.0 278.8 462.2 281.0C463.5 283.2 464.6 286.2 466.2 289.0C467.8 291.8 469.8 294.8 471.7 298.0C473.6 301.2 475.7 304.7 477.7 308.0C479.7 311.3 482.0 315.2 483.7 318.0C485.4 320.8 486.5 322.9 487.7 324.5C488.9 326.1 489.7 327.3 490.7 327.6C491.7 327.9 493.3 326.4 493.8 326.2" stroke="#fff" stroke-width="2.6"/>
<path d="M419.5 189.5C420.2 188.4 422.2 184.8 424.0 183.0C425.8 181.2 428.3 179.3 430.5 178.6C432.7 177.9 435.5 178.1 437.0 178.8C438.5 179.5 439.8 181.5 439.6 182.6C439.4 183.7 436.9 185.0 435.6 185.2C434.3 185.4 432.6 183.9 432.0 183.6" stroke="#4a4a4a" stroke-width="4.1"/><path d="M419.5 189.5C420.2 188.4 422.2 184.8 424.0 183.0C425.8 181.2 428.3 179.3 430.5 178.6C432.7 177.9 435.5 178.1 437.0 178.8C438.5 179.5 439.8 181.5 439.6 182.6C439.4 183.7 436.9 185.0 435.6 185.2C434.3 185.4 432.6 183.9 432.0 183.6" stroke="#fff" stroke-width="2.6"/>
<path d="M477.5 189.5C476.8 188.4 474.8 184.8 473.0 183.0C471.2 181.2 468.7 179.3 466.5 178.6C464.3 177.9 461.5 178.1 460.0 178.8C458.5 179.5 457.2 181.5 457.4 182.6C457.6 183.7 460.1 185.0 461.4 185.2C462.7 185.4 464.4 183.9 465.0 183.6" stroke="#4a4a4a" stroke-width="4.1"/><path d="M477.5 189.5C476.8 188.4 474.8 184.8 473.0 183.0C471.2 181.2 468.7 179.3 466.5 178.6C464.3 177.9 461.5 178.1 460.0 178.8C458.5 179.5 457.2 181.5 457.4 182.6C457.6 183.7 460.1 185.0 461.4 185.2C462.7 185.4 464.4 183.9 465.0 183.6" stroke="#fff" stroke-width="2.6"/>
<path d="M441.2 179 L441 195 C438 196.5 435.5 197.3 434.6 198.2 L436 206 L438.4 214.3 L439 240 L439.2 268 C439.5 271 441.5 272.3 443.6 272.2 C443.8 278 444.6 284 446.4 287.4 C447.4 289.2 449.2 289.2 450.2 287.4 C452 284 452.8 278 453 272.2 C455 272.3 457 271 457.4 268 L457.2 240 L457.6 214.4 L459.6 208.4 L458.6 198.4 C457.6 197 456.2 196.4 455.2 195 L454.8 179" fill="#fff" stroke="none"/>
<path d="M441.2 179 L441 195 C438 196.5 435.5 197.3 434.6 198.2 L436 206 L438.4 214.3 M457.6 214.4 L459.6 208.4 L458.6 198.4 C457.6 197 456.2 196.4 455.2 195 L454.8 179" stroke="#5a5a5a" stroke-width="0.7"/>
<path d="M438.4 214.3 L439 240 L439.2 262 M457.2 262 L457.2 240 L457.6 214.4" stroke="#a8a8a8" stroke-width="0.6"/>
<path d="M439.2 262 L439.2 268 C439.5 271 441.5 272.3 443.6 272.2 C443.8 278 444.6 284 446.4 287.4 C447.4 289.2 449.2 289.2 450.2 287.4 C452 284 452.8 278 453 272.2 C455 272.3 457 271 457.4 268 L457.2 262" stroke="#6a6a6a" stroke-width="0.7"/>
<path d="M438.4 214.3 H457.6" stroke="#8a8a8a" stroke-width="0.6"/>
<path d="M441 195 C445 197 451 197 455.2 195"/>
<path d="M374.6 182.3C376.3 182.4 381.6 182.4 385.0 182.6C388.4 182.8 391.7 182.7 395.0 183.3C398.3 183.9 401.8 185.0 405.0 186.0C408.2 187.0 410.8 188.2 414.0 189.4C417.2 190.6 420.8 192.2 424.0 193.3C427.2 194.4 430.4 195.5 433.0 196.2C435.6 196.9 438.5 197.4 439.6 197.6" stroke="#4a4a4a" stroke-width="5.1"/><path d="M374.6 182.3C376.3 182.4 381.6 182.4 385.0 182.6C388.4 182.8 391.7 182.7 395.0 183.3C398.3 183.9 401.8 185.0 405.0 186.0C408.2 187.0 410.8 188.2 414.0 189.4C417.2 190.6 420.8 192.2 424.0 193.3C427.2 194.4 430.4 195.5 433.0 196.2C435.6 196.9 438.5 197.4 439.6 197.6" stroke="#fff" stroke-width="3.6"/>
<path d="M521.8 181.6C520.3 181.7 516.6 181.6 513.0 181.9C509.4 182.2 503.8 182.8 500.0 183.3C496.2 183.9 493.3 184.5 490.0 185.2C486.7 185.9 483.3 186.6 480.0 187.6C476.7 188.6 473.0 190.2 470.0 191.4C467.0 192.6 464.2 194.0 462.0 195.0C459.8 196.0 457.7 197.0 456.8 197.4" stroke="#4a4a4a" stroke-width="5.1"/><path d="M521.8 181.6C520.3 181.7 516.6 181.6 513.0 181.9C509.4 182.2 503.8 182.8 500.0 183.3C496.2 183.9 493.3 184.5 490.0 185.2C486.7 185.9 483.3 186.6 480.0 187.6C476.7 188.6 473.0 190.2 470.0 191.4C467.0 192.6 464.2 194.0 462.0 195.0C459.8 196.0 457.7 197.0 456.8 197.4" stroke="#fff" stroke-width="3.6"/>
<path d="M440.0 200.0C441.2 199.8 442.8 203.2 444.0 203.0C445.2 202.8 446.0 198.6 447.0 198.5C448.0 198.4 449.0 202.4 450.0 202.5C451.0 202.6 451.9 198.9 453.0 199.0C454.1 199.1 455.6 201.2 456.5 203.0C457.4 204.8 457.3 208.2 458.5 210.0C459.7 211.8 461.5 212.2 463.5 213.5C465.5 214.8 468.6 215.8 470.5 217.5C472.4 219.2 474.1 221.8 475.0 224.0C475.9 226.2 476.1 228.7 476.0 231.0C475.9 233.3 475.5 235.8 474.5 238.0C473.5 240.2 471.6 242.0 470.0 244.0C468.4 246.0 466.5 247.7 465.0 250.0C463.5 252.3 462.2 255.3 461.0 258.0C459.8 260.7 459.0 263.6 457.5 266.0C456.0 268.4 454.2 271.2 452.0 272.5C449.8 273.8 446.4 274.0 444.0 273.5C441.6 273.0 439.2 271.9 437.5 269.5C435.8 267.1 434.8 262.5 433.5 259.0C432.2 255.5 429.9 252.0 429.5 248.5C429.1 245.0 430.2 241.8 430.8 238.0C431.4 234.2 432.8 230.2 433.4 226.0C434.0 221.8 434.0 216.7 434.5 213.0C435.0 209.3 435.6 206.2 436.5 204.0C437.4 201.8 438.8 200.2 440.0 200.0Z" fill="#8c8c8c" fill-opacity="0.36" stroke="none"/>
<g stroke="#222" stroke-width="0.6">
<path d="M371 225 H445.5"/>
<path d="M538.8 175 V195 H487.5"/>
<path d="M528 225.8 H503.6 V263"/>
<path d="M526.5 240.2C525.8 241.5 523.2 245.4 522.0 248.0C520.8 250.6 519.8 253.9 519.2 256.0C518.6 258.1 518.5 259.8 518.4 260.5"/>
<path d="M436 255.6 H459 M483 269.8 L500 267 M506.5 265.8 L515.5 264.3"/>
</g>
<path d="M487.5 186.5 L484.6 204" stroke="#5b9bd5" stroke-width="0.8" stroke-dasharray="2.2 1.4"/>
<path d="M484.6 204.0C484.3 207.0 483.1 214.3 482.6 222.0C482.1 229.7 481.7 240.3 481.4 250.0C481.1 259.7 480.9 266.5 480.6 280.0C480.3 293.5 479.8 322.5 479.6 331.0" stroke="#5b9bd5" stroke-width="0.8"/>
</g>
<g font-size="7.2" fill="#2b2b2b">
<text x="352.5" y="221">Angle of</text><text x="352.5" y="227.9">Louis</text>
<text x="556.8" y="166.7" text-anchor="end">Mid Clavical</text><text x="556.8" y="174" text-anchor="end">Line</text>
<text x="561" y="221.5" text-anchor="end">Anterior Axillary</text><text x="561" y="228.6" text-anchor="end">Line</text>
<text x="562" y="251.8" text-anchor="end">Mid Axillary</text><text x="562" y="258.8" text-anchor="end">Line</text>
</g>
<g font-size="5.2" font-weight="bold" fill="#fff" text-anchor="middle">
<circle cx="433.0" cy="255.5" r="3.5" fill="#c04a50" stroke="#9a1f27" stroke-width="1.3"/>
<text x="433.0" y="257.4">1</text>
<circle cx="462.0" cy="256.0" r="3.5" fill="#c04a50" stroke="#9a1f27" stroke-width="1.3"/>
<text x="462.0" y="257.9">2</text>
<circle cx="470.0" cy="263.3" r="3.5" fill="#c04a50" stroke="#9a1f27" stroke-width="1.3"/>
<text x="470.0" y="265.2">3</text>
<circle cx="480.0" cy="270.0" r="3.5" fill="#c04a50" stroke="#9a1f27" stroke-width="1.3"/>
<text x="480.0" y="271.9">4</text>
<circle cx="503.3" cy="266.3" r="3.5" fill="#c04a50" stroke="#9a1f27" stroke-width="1.3"/>
<text x="503.3" y="268.2">5</text>
<circle cx="518.8" cy="263.8" r="3.5" fill="#c04a50" stroke="#9a1f27" stroke-width="1.3"/>
<text x="518.8" y="265.7">6</text>
</g>
<path d="M337.0 342.5 L422.0 262.5" stroke="#e11b1f" stroke-width="2.3" fill="none"/><path d="M427.0 257.8 L423.0 267.4 L422.0 262.5 L417.2 261.3Z" fill="#e11b1f"/>
<path d="M417.0 346.5 L472.5 282.7" stroke="#e11b1f" stroke-width="2.3" fill="none"/><path d="M477.0 277.5 L473.9 287.4 L472.5 282.7 L467.6 281.9Z" fill="#e11b1f"/>
<defs>
<filter id="soft" x="-10%" y="-10%" width="120%" height="120%"><feGaussianBlur stdDeviation="0.6"/></filter>
<radialGradient id="bulb" cx="0.42" cy="0.38" r="0.65"><stop offset="0" stop-color="#3f7ae0"/><stop offset="0.6" stop-color="#2d63cc"/><stop offset="1" stop-color="#2450ad"/></radialGradient>
<linearGradient id="cup" x1="0" y1="0" x2="1" y2="0"><stop offset="0" stop-color="#4f5f70"/><stop offset="0.35" stop-color="#8ea0b0"/><stop offset="0.6" stop-color="#5c6c7e"/><stop offset="1" stop-color="#3d4a59"/></linearGradient>
</defs>
<g id="clips" filter="url(#soft)">
<path d="M114.6 385.3L121.2 389.3L119.6 398.3L109.6 414.3L99.6 430.3L91.6 436.3L81.6 433.3L82.6 428.3L91.6 414.3L101.6 400.3L109.6 389.3Z" fill="#27a880" stroke="#27a880" stroke-width="1.4" stroke-linejoin="round"/>
<path d="M113.0 384.0L119.6 388.0L118.0 397.0L108.0 413.0L98.0 429.0L90.0 435.0L80.0 432.0L81.0 427.0L90.0 413.0L100.0 399.0L108.0 388.0Z" fill="#5cd2ab" stroke="#5cd2ab" stroke-width="1.4" stroke-linejoin="round"/>
<path d="M118.0 397.0C116.3 399.7 111.3 407.7 108.0 413.0C104.7 418.3 101.0 425.3 98.0 429.0C95.0 432.7 91.3 434.0 90.0 435.0" fill="none" stroke="#27a880" stroke-width="2.4" stroke-linecap="round" opacity="0.55"/>
<path d="M108.0 388.0C106.7 389.8 103.0 394.8 100.0 399.0C97.0 403.2 93.2 408.3 90.0 413.0C86.8 417.7 82.5 424.7 81.0 427.0" fill="none" stroke="#d0f7ea" stroke-width="1.8" stroke-linecap="round" opacity="0.75"/>
<path d="M94.6 384.3L101.6 388.3L99.6 398.3L91.6 412.3L81.6 428.3L73.6 436.3L62.6 431.3L64.6 426.3L73.6 412.3L81.6 400.3L89.6 388.3Z" fill="#1c1c1c" stroke="#1c1c1c" stroke-width="1.4" stroke-linejoin="round"/>
<path d="M93.0 383.0L100.0 387.0L98.0 397.0L90.0 411.0L80.0 427.0L72.0 435.0L61.0 430.0L63.0 425.0L72.0 411.0L80.0 399.0L88.0 387.0Z" fill="#434343" stroke="#434343" stroke-width="1.4" stroke-linejoin="round"/>
<path d="M98.0 397.0C96.7 399.3 93.0 406.0 90.0 411.0C87.0 416.0 83.0 423.0 80.0 427.0C77.0 431.0 73.3 433.7 72.0 435.0" fill="none" stroke="#1c1c1c" stroke-width="2.4" stroke-linecap="round" opacity="0.55"/>
<path d="M88.0 387.0C86.7 389.0 82.7 395.0 80.0 399.0C77.3 403.0 74.8 406.7 72.0 411.0C69.2 415.3 64.5 422.7 63.0 425.0" fill="none" stroke="#858585" stroke-width="1.8" stroke-linecap="round" opacity="0.75"/>
<path d="M75.6 384.7L82.6 387.3L80.6 398.3L69.6 414.3L59.6 428.3L51.6 434.3L41.6 431.3L43.6 424.3L51.6 412.3L61.6 398.3L70.6 388.3Z" fill="#c4b000" stroke="#c4b000" stroke-width="1.4" stroke-linejoin="round"/>
<path d="M74.0 383.4L81.0 386.0L79.0 397.0L68.0 413.0L58.0 427.0L50.0 433.0L40.0 430.0L42.0 423.0L50.0 411.0L60.0 397.0L69.0 387.0Z" fill="#f3e314" stroke="#f3e314" stroke-width="1.4" stroke-linejoin="round"/>
<path d="M79.0 397.0C77.2 399.7 71.5 408.0 68.0 413.0C64.5 418.0 61.0 423.7 58.0 427.0C55.0 430.3 51.3 432.0 50.0 433.0" fill="none" stroke="#c4b000" stroke-width="2.4" stroke-linecap="round" opacity="0.55"/>
<path d="M69.0 387.0C67.5 388.7 63.2 393.0 60.0 397.0C56.8 401.0 53.0 406.7 50.0 411.0C47.0 415.3 43.3 421.0 42.0 423.0" fill="none" stroke="#fff77a" stroke-width="1.8" stroke-linecap="round" opacity="0.75"/>
<path d="M58.6 383.3L64.0 388.3L62.6 396.3L51.6 410.3L41.6 422.3L31.6 434.3L22.6 431.3L21.6 426.3L31.6 412.3L43.6 398.3L53.6 387.3Z" fill="#a30b11" stroke="#a30b11" stroke-width="1.4" stroke-linejoin="round"/>
<path d="M57.0 382.0L62.4 387.0L61.0 395.0L50.0 409.0L40.0 421.0L30.0 433.0L21.0 430.0L20.0 425.0L30.0 411.0L42.0 397.0L52.0 386.0Z" fill="#e5131d" stroke="#e5131d" stroke-width="1.4" stroke-linejoin="round"/>
<path d="M61.0 395.0C59.2 397.3 53.5 404.7 50.0 409.0C46.5 413.3 43.3 417.0 40.0 421.0C36.7 425.0 31.7 431.0 30.0 433.0" fill="none" stroke="#a30b11" stroke-width="2.4" stroke-linecap="round" opacity="0.55"/>
<path d="M52.0 386.0C50.3 387.8 45.7 392.8 42.0 397.0C38.3 401.2 33.7 406.3 30.0 411.0C26.3 415.7 21.7 422.7 20.0 425.0" fill="none" stroke="#f4656a" stroke-width="1.8" stroke-linecap="round" opacity="0.75"/>
<path d="M110 392 L104 402 L99 410 L103 411 L108 403 L113.5 394Z" fill="#d8fbef" opacity="0.55"/>
<path d="M92 385.5 L96.5 387.5 L94.5 394 L90 392Z" fill="#b9bcc0"/>
<rect x="46.3" y="397.2" width="7.4" height="3.6" fill="#181818" transform="rotate(-55 50.0 399.0)"/>
<rect x="63.3" y="397.2" width="7.4" height="3.6" fill="#181818" transform="rotate(-55 67.0 399.0)"/>
<rect x="83.8" y="396.7" width="7.4" height="3.6" fill="#181818" transform="rotate(-55 87.5 398.5)"/>
<rect x="104.8" y="398.2" width="7.4" height="3.6" fill="#181818" transform="rotate(-55 108.5 400.0)"/>
<circle cx="37.5" cy="408.0" r="2" fill="#dcdcdc" stroke="#5a5a5a" stroke-width="0.7"/>
<circle cx="58.0" cy="408.0" r="2" fill="#dcdcdc" stroke="#5a5a5a" stroke-width="0.7"/>
<circle cx="79.0" cy="411.5" r="2" fill="#dcdcdc" stroke="#5a5a5a" stroke-width="0.7"/>
<circle cx="98.0" cy="410.0" r="2" fill="#dcdcdc" stroke="#5a5a5a" stroke-width="0.7"/>
</g>
<g id="bulbs" filter="url(#soft)">
<path d="M401.2 415.7 C406.2 416.0 409.2 417.7 411.7 419.7" stroke="#55616f" stroke-width="2.2" stroke-linecap="round" fill="none"/><path d="M394.2 414.5 C391.7 417.0 387.7 419.5 386.6 422.5 C388.2 427.1 401.2 427.5 403.4 423.1 C403.6 419.5 402.2 416.5 400.7 414.5Z" fill="url(#cup)"/><ellipse cx="395.0" cy="423.7" rx="7.6" ry="2.4" fill="#2e3846" transform="rotate(3 395.0 423.7)"/><ellipse cx="396.2" cy="419.9" rx="3.6" ry="1.6" fill="#8b9db2" opacity="0.75"/><path d="M395.8 408.0 L407.6 408.5 L401.6 415.3 L395.0 414.9Z" fill="#2452b0"/><circle cx="402.2" cy="401.5" r="9.6" fill="url(#bulb)"/>
<path d="M433.4 415.7 C438.4 416.0 441.4 417.7 443.9 419.7" stroke="#55616f" stroke-width="2.2" stroke-linecap="round" fill="none"/><path d="M426.4 414.5 C423.9 417.0 419.9 419.5 418.8 422.5 C420.4 427.1 433.4 427.5 435.6 423.1 C435.8 419.5 434.4 416.5 432.9 414.5Z" fill="url(#cup)"/><ellipse cx="427.2" cy="423.7" rx="7.6" ry="2.4" fill="#2e3846" transform="rotate(3 427.2 423.7)"/><ellipse cx="428.4" cy="419.9" rx="3.6" ry="1.6" fill="#8b9db2" opacity="0.75"/><path d="M428.0 408.0 L439.8 408.5 L433.8 415.3 L427.2 414.9Z" fill="#2452b0"/><circle cx="434.4" cy="401.5" r="9.6" fill="url(#bulb)"/>
<path d="M466.0 415.7 C471.0 416.0 474.0 417.7 476.5 419.7" stroke="#55616f" stroke-width="2.2" stroke-linecap="round" fill="none"/><path d="M459.0 414.5 C456.5 417.0 452.5 419.5 451.4 422.5 C453.0 427.1 466.0 427.5 468.2 423.1 C468.4 419.5 467.0 416.5 465.5 414.5Z" fill="url(#cup)"/><ellipse cx="459.8" cy="423.7" rx="7.6" ry="2.4" fill="#2e3846" transform="rotate(3 459.8 423.7)"/><ellipse cx="461.0" cy="419.9" rx="3.6" ry="1.6" fill="#8b9db2" opacity="0.75"/><path d="M460.6 408.0 L472.4 408.5 L466.4 415.3 L459.8 414.9Z" fill="#2452b0"/><circle cx="467.0" cy="401.5" r="9.6" fill="url(#bulb)"/>
<path d="M499.0 419.2 C504.0 419.5 507.0 421.2 509.5 423.2" stroke="#55616f" stroke-width="2.2" stroke-linecap="round" fill="none"/><path d="M492.0 418.0 C489.5 420.5 485.5 423.0 484.4 426.0 C486.0 430.6 499.0 431.0 501.2 426.6 C501.4 423.0 500.0 420.0 498.5 418.0Z" fill="url(#cup)"/><ellipse cx="492.8" cy="427.2" rx="7.6" ry="2.4" fill="#2e3846" transform="rotate(3 492.8 427.2)"/><ellipse cx="494.0" cy="423.4" rx="3.6" ry="1.6" fill="#8b9db2" opacity="0.75"/><path d="M493.6 411.5 L505.4 412.0 L499.4 418.8 L492.8 418.4Z" fill="#2452b0"/><circle cx="500.0" cy="405.0" r="9.6" fill="url(#bulb)"/>
<path d="M532.0 419.2 C537.0 419.5 540.0 421.2 547.5 423.2" stroke="#55616f" stroke-width="2.2" stroke-linecap="round" fill="none"/><path d="M545.3 420.2 v5" stroke="#6b7887" stroke-width="1.7" stroke-linecap="round"/><path d="M525.0 418.0 C522.5 420.5 518.5 423.0 517.4 426.0 C519.0 430.6 532.0 431.0 534.2 426.6 C534.4 423.0 533.0 420.0 531.5 418.0Z" fill="url(#cup)"/><ellipse cx="525.8" cy="427.2" rx="7.6" ry="2.4" fill="#2e3846" transform="rotate(3 525.8 427.2)"/><ellipse cx="527.0" cy="423.4" rx="3.6" ry="1.6" fill="#8b9db2" opacity="0.75"/><path d="M526.6 411.5 L538.4 412.0 L532.4 418.8 L525.8 418.4Z" fill="#2452b0"/><circle cx="533.0" cy="405.0" r="9.6" fill="url(#bulb)"/>
<path d="M565.0 419.2 C570.0 419.5 573.0 421.2 580.5 423.2" stroke="#55616f" stroke-width="2.2" stroke-linecap="round" fill="none"/><path d="M578.3 420.2 v5" stroke="#6b7887" stroke-width="1.7" stroke-linecap="round"/><path d="M558.0 418.0 C555.5 420.5 551.5 423.0 550.4 426.0 C552.0 430.6 565.0 431.0 567.2 426.6 C567.4 423.0 566.0 420.0 564.5 418.0Z" fill="url(#cup)"/><ellipse cx="558.8" cy="427.2" rx="7.6" ry="2.4" fill="#2e3846" transform="rotate(3 558.8 427.2)"/><ellipse cx="560.0" cy="423.4" rx="3.6" ry="1.6" fill="#8b9db2" opacity="0.75"/><path d="M559.6 411.5 L571.4 412.0 L565.4 418.8 L558.8 418.4Z" fill="#2452b0"/><circle cx="566.0" cy="405.0" r="9.6" fill="url(#bulb)"/>
</g>
</svg>
<div id="barY"></div><div id="barO"></div>
<div class="t" id="title1">Расположение</div>
<div class="t" id="title2">электродов</div>
<div class="t u" id="std1">Стандартные</div>
<div class="t u" id="std2">отведения</div>
<div class="t u" id="chest">Грудные&nbsp; отведения</div>
<div class="t lbl" id="pr1" style="left:7px;top:188px;">П</div>
<div class="t lbl" id="pr2" style="left:7px;top:211.5px;">Р</div>
<div class="t lbl" id="lr1" style="left:87px;top:188px;">Л</div>
<div class="t lbl" id="lr2" style="left:86px;top:211px;">Р</div>
<div class="t lbl" id="pn1" style="left:72px;top:324px;">П</div>
<div class="t lbl" id="pn2" style="left:72px;top:348px;">Н</div>
<div class="t lbl" id="m41" style="left:301px;top:343px;color:#555;">4</div>
<div class="t lbl" id="m42" style="left:301px;top:366px;letter-spacing:2px;">м/р</div>
<div class="t lbl" id="m51" style="left:385px;top:347px;color:#555;">5</div>
<div class="t lbl" id="m52" style="left:385px;top:370px;letter-spacing:2px;">м/р</div>
<div class="t" id="ext1" style="left:188px;top:402px;font-size:18px;letter-spacing:1px;">Внешний вид</div>
<div class="t" id="ext2" style="left:195px;top:424px;font-size:18px;letter-spacing:1.3px;">электродов</div>
</body>
</html>
